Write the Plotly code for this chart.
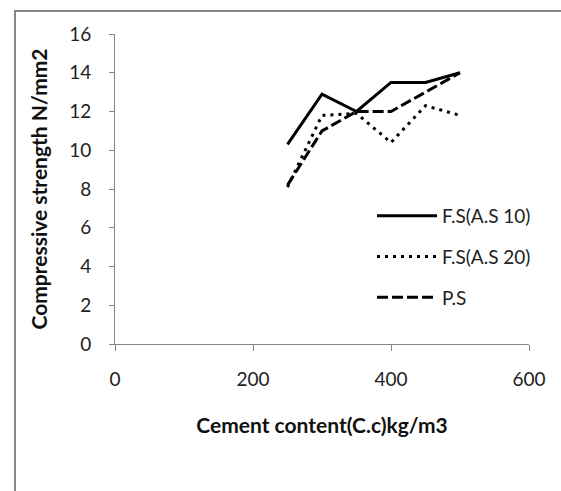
import plotly.graph_objects as go

cement = [250, 300, 350, 400, 450, 500]
fs_as10 = [10.3, 12.9, 12.0, 13.5, 13.5, 14.0]
fs_as20 = [8.1, 11.8, 11.9, 10.4, 12.3, 11.8]
ps = [8.2, 11.0, 12.0, 12.0, 13.0, 14.0]

names = ["F.S(A.S 10)", "F.S(A.S 20)", "P.S"]
series = [fs_as10, fs_as20, ps]
dashes = ["solid", "3px,5px", "11px,4px"]

FONT = "Lato"
fig = go.Figure()
for i, (n, s, d) in enumerate(zip(names, series, dashes)):
    fig.add_trace(go.Scatter(x=cement, y=s, mode="lines", name=n,
                             legendgroup=f"g{i}",
                             line=dict(color="black", width=3, dash=d)))

W, H = 561, 491
L, R, T, B = 115, 32, 34, 147
pw, ph = W - L - R, H - T - B

def px2paper_x(px):
    return (px - L) / pw

def px2paper_y(py):
    return (H - B - py) / ph

fig.update_layout(
    width=W, height=H,
    margin=dict(l=L, r=R, t=T, b=B, pad=0),
    paper_bgcolor="white", plot_bgcolor="white",
    font=dict(family=FONT, color="#222", size=19),
    showlegend=True,
    legend=dict(x=px2paper_x(372), y=px2paper_y(197), xanchor="left", yanchor="top",
                traceorder="grouped", tracegroupgap=13, bgcolor="rgba(0,0,0,0)",
                font=dict(size=19, family=FONT, color="#222"), itemwidth=60),
    xaxis=dict(range=[0, 600], tickvals=[0, 200, 400, 600], showgrid=False,
               zeroline=False, showline=True, linecolor="#868686", linewidth=1,
               ticks="outside", ticklen=6, tickcolor="#868686",
               ticklabelstandoff=12,
               title=dict(text="<b>Cement content(C.c)kg/m3</b>", standoff=29,
                          font=dict(size=21, family=FONT, color="#111"))),
    yaxis=dict(range=[0, 16], tickvals=list(range(0, 17, 2)), showgrid=False,
               zeroline=False, showline=True, linecolor="#868686", linewidth=1,
               ticks="outside", ticklen=5, tickcolor="#868686",
               ticklabelstandoff=14,
               title=dict(text="<b>Compressive strength N/mm2</b>", standoff=15,
                          font=dict(size=21, family=FONT, color="#111"))),
    shapes=[dict(type="rect", xref="paper", yref="paper",
                 x0=px2paper_x(15), x1=px2paper_x(600),
                 y0=px2paper_y(600), y1=px2paper_y(11),
                 line=dict(color="#868686", width=2), fillcolor="rgba(0,0,0,0)",
                 layer="below")],
)

fig.write_html("out.html")
